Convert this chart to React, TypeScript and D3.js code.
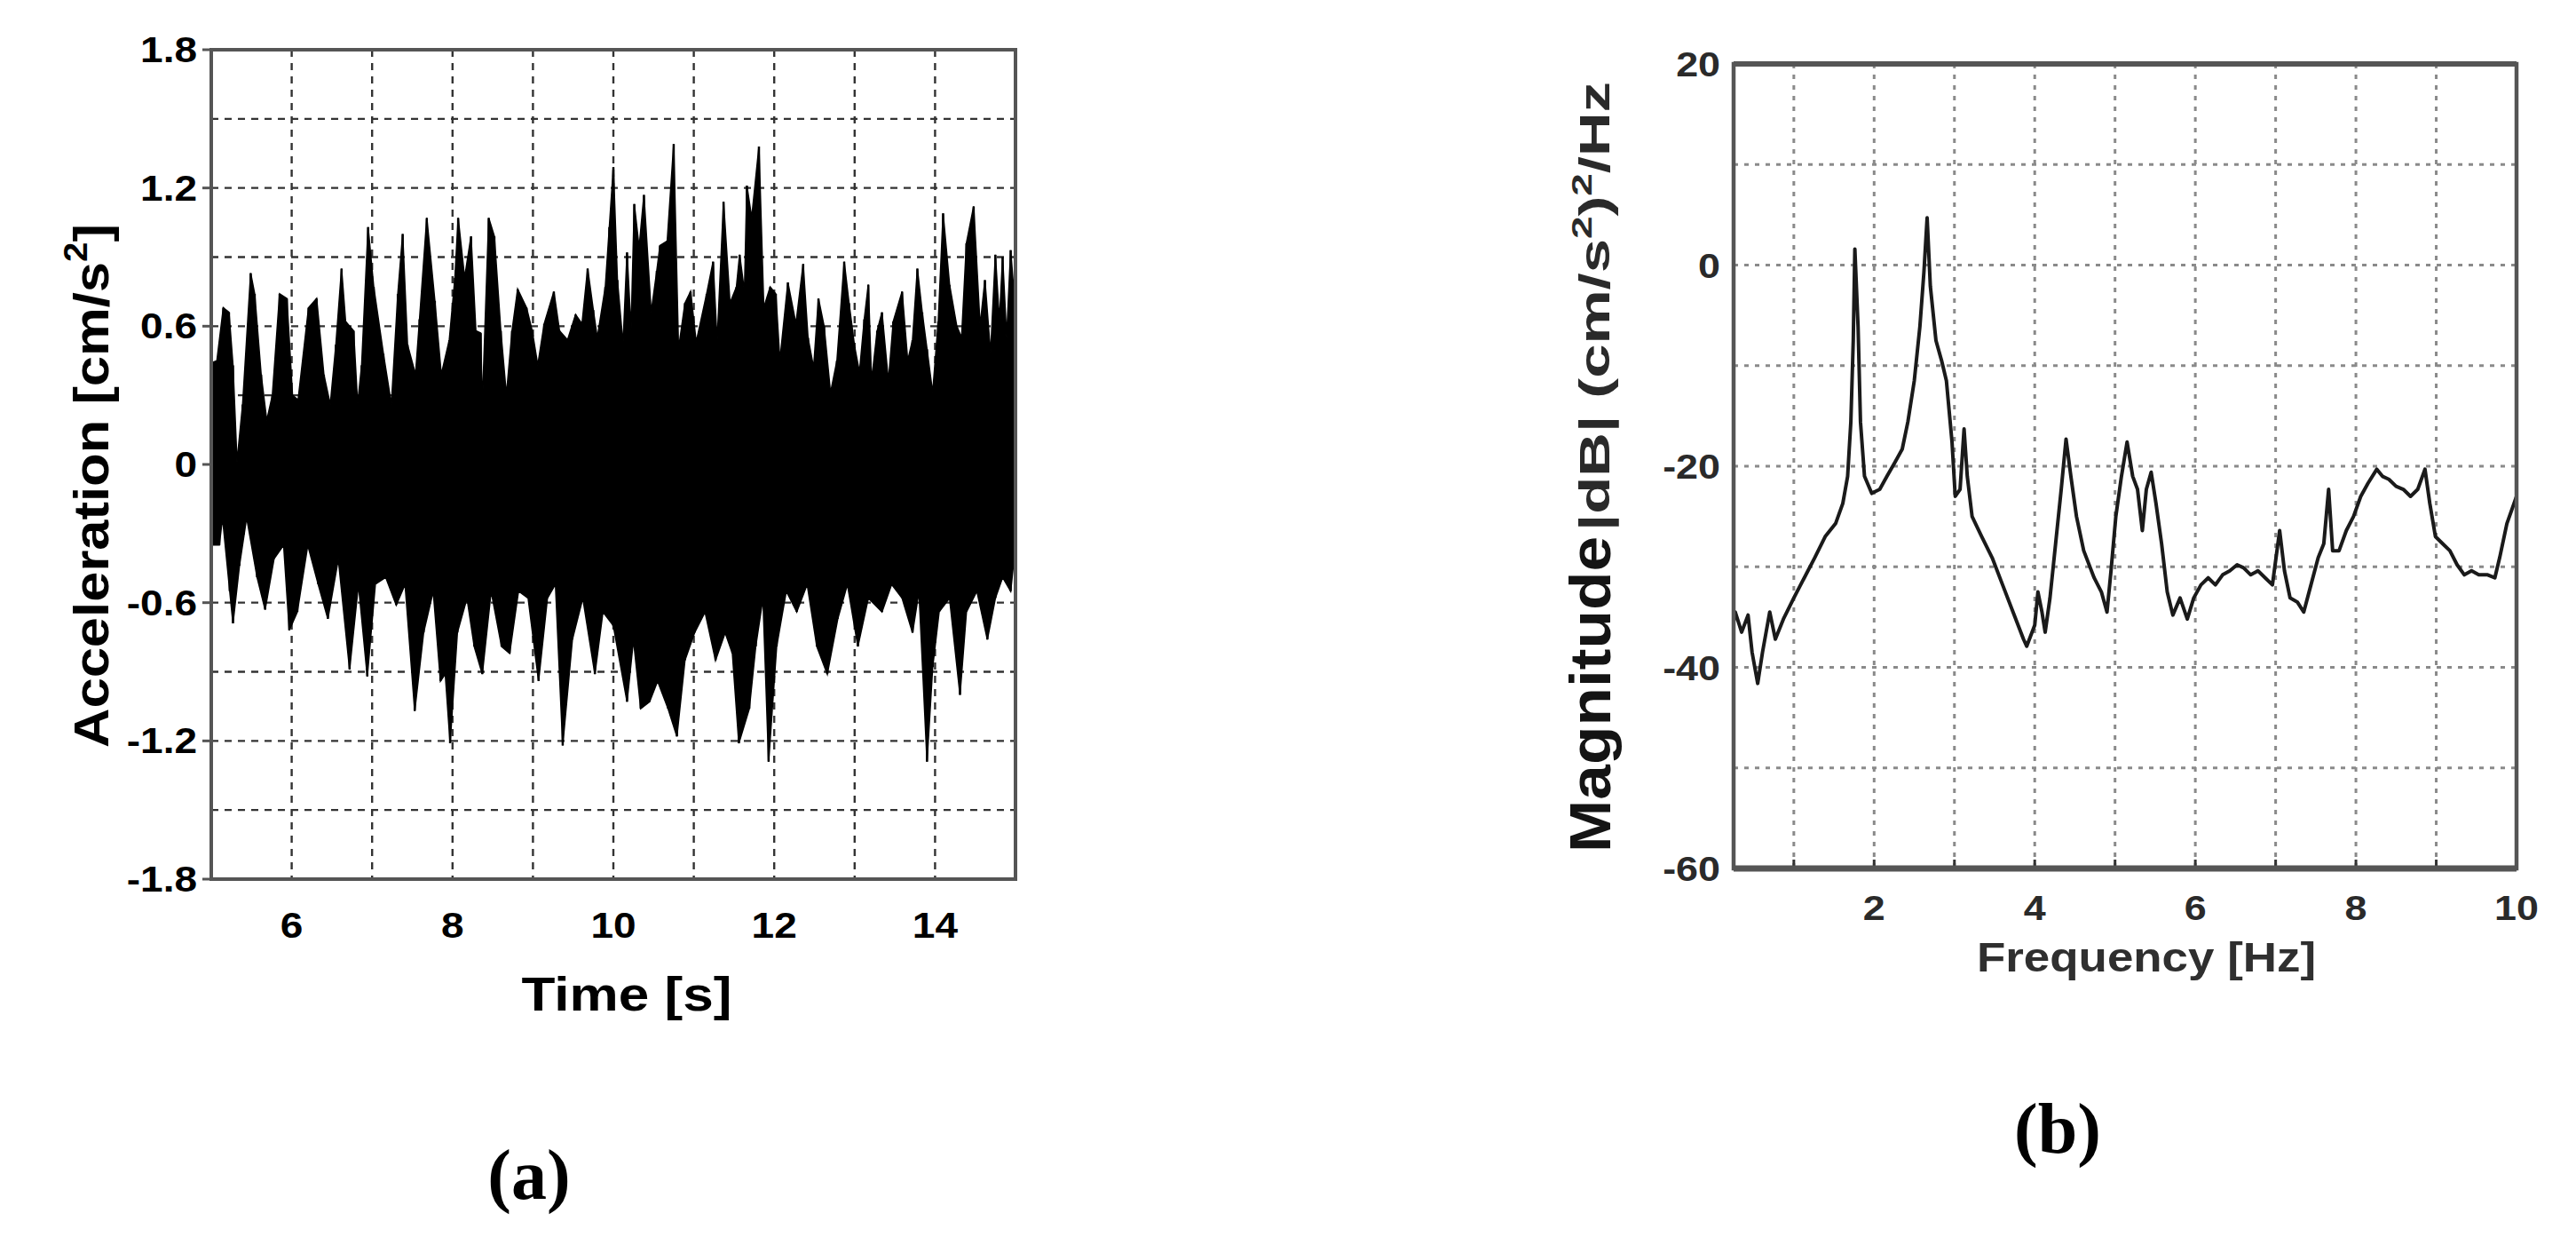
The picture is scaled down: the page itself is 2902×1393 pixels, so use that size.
import React from "react";
import * as d3 from "d3";

// ---------- (a) acceleration time history: upper and lower envelope ----------
const accTimeUpper = [
  5.0, 5.07, 5.15, 5.22, 5.27, 5.32, 5.39, 5.49, 5.54, 5.62, 5.69, 5.76, 5.85, 5.94, 6.01, 6.08,
  6.21, 6.31, 6.4, 6.48, 6.55, 6.62, 6.67, 6.77, 6.82, 6.87, 6.95, 7.02, 7.14, 7.24, 7.32, 7.38,
  7.44, 7.54, 7.59, 7.68, 7.78, 7.86, 7.96, 8.03, 8.07, 8.15, 8.23, 8.29, 8.35, 8.37, 8.45, 8.52,
  8.6, 8.67, 8.74, 8.81, 8.92, 8.99, 9.06, 9.14, 9.26, 9.33, 9.43, 9.53, 9.61, 9.68, 9.75, 9.8,
  9.9, 9.95, 10.0, 10.05, 10.12, 10.17, 10.22, 10.26, 10.32, 10.38, 10.47, 10.54, 10.58, 10.67, 10.75, 10.81,
  10.89, 10.96, 11.03, 11.16, 11.24, 11.29, 11.37, 11.45, 11.53, 11.57, 11.63, 11.66, 11.72, 11.81, 11.87, 11.95,
  12.02, 12.07, 12.17, 12.27, 12.36, 12.42, 12.49, 12.55, 12.62, 12.7, 12.78, 12.87, 12.93, 13.0, 13.06, 13.12,
  13.17, 13.21, 13.28, 13.34, 13.42, 13.48, 13.59, 13.66, 13.72, 13.78, 13.84, 13.9, 13.97, 14.04, 14.1, 14.18,
  14.27, 14.33, 14.39, 14.48, 14.56, 14.62, 14.69, 14.75, 14.8, 14.84, 14.89, 14.94, 15.0,
];
const accUpper = [
  0.44, 0.45, 0.68, 0.66, 0.43, 0.01, 0.26, 0.83, 0.74, 0.39, 0.19, 0.3, 0.74, 0.72, 0.3, 0.28,
  0.68, 0.72, 0.39, 0.26, 0.52, 0.85, 0.62, 0.58, 0.26, 0.43, 1.03, 0.77, 0.48, 0.26, 0.74, 1.0,
  0.52, 0.39, 0.63, 1.07, 0.71, 0.39, 0.54, 0.81, 1.07, 0.81, 0.99, 0.58, 0.57, 0.25, 1.07, 0.99,
  0.58, 0.3, 0.58, 0.76, 0.68, 0.58, 0.43, 0.61, 0.75, 0.58, 0.54, 0.65, 0.61, 0.85, 0.67, 0.55,
  0.77, 1.03, 1.29, 0.8, 0.52, 0.92, 0.58, 1.13, 0.94, 1.17, 0.66, 0.84, 0.95, 0.97, 1.39, 0.5,
  0.7, 0.75, 0.53, 0.74, 0.88, 0.53, 1.14, 0.7, 0.77, 0.91, 0.75, 1.21, 1.07, 1.38, 0.68, 0.77,
  0.74, 0.45, 0.79, 0.61, 0.87, 0.55, 0.42, 0.72, 0.6, 0.31, 0.45, 0.88, 0.7, 0.51, 0.4, 0.63,
  0.78, 0.36, 0.58, 0.66, 0.36, 0.62, 0.75, 0.45, 0.54, 0.85, 0.66, 0.5, 0.31, 0.62, 1.09, 0.78,
  0.6, 0.55, 0.96, 1.12, 0.6, 0.8, 0.48, 0.91, 0.62, 0.9, 0.55, 0.93, 0.66,
];
const accTimeLower = [
  5.0, 5.1, 5.14, 5.23, 5.27, 5.35, 5.44, 5.57, 5.67, 5.78, 5.9, 5.97, 6.07, 6.2, 6.33, 6.45,
  6.58, 6.72, 6.83, 6.94, 7.04, 7.17, 7.3, 7.41, 7.53, 7.64, 7.76, 7.85, 7.91, 7.97, 8.06, 8.18,
  8.27, 8.37, 8.48, 8.61, 8.71, 8.82, 8.94, 9.07, 9.18, 9.28, 9.37, 9.49, 9.62, 9.77, 9.87, 10.0,
  10.17, 10.25, 10.34, 10.45, 10.55, 10.68, 10.79, 10.89, 11.01, 11.14, 11.27, 11.39, 11.48, 11.56, 11.69, 11.77,
  11.86, 11.93, 12.03, 12.15, 12.28, 12.41, 12.53, 12.66, 12.79, 12.91, 13.04, 13.17, 13.34, 13.46, 13.59, 13.72,
  13.8, 13.9, 13.97, 14.05, 14.18, 14.31, 14.39, 14.52, 14.65, 14.75, 14.84, 14.94, 15.0,
];
const accLower = [
  -0.35, -0.35, -0.23, -0.55, -0.69, -0.44, -0.23, -0.49, -0.63, -0.41, -0.35, -0.72, -0.64, -0.35, -0.52, -0.67,
  -0.41, -0.89, -0.52, -0.92, -0.52, -0.49, -0.61, -0.52, -1.07, -0.73, -0.55, -0.94, -0.91, -1.21, -0.73, -0.58,
  -0.79, -0.91, -0.55, -0.79, -0.82, -0.55, -0.58, -0.94, -0.58, -0.52, -1.22, -0.76, -0.58, -0.91, -0.64, -0.7,
  -1.03, -0.76, -1.06, -1.03, -0.94, -1.06, -1.18, -0.85, -0.73, -0.64, -0.85, -0.73, -0.82, -1.21, -1.06, -0.79,
  -0.58, -1.29, -0.79, -0.55, -0.64, -0.52, -0.79, -0.91, -0.67, -0.52, -0.79, -0.58, -0.64, -0.52, -0.58, -0.73,
  -0.55, -1.29, -0.88, -0.64, -0.58, -1.0, -0.64, -0.55, -0.76, -0.58, -0.49, -0.55, -0.35,
];
const accXTicks = [6, 8, 10, 12, 14];
const accYTicks = [1.8, 1.2, 0.6, 0, -0.6, -1.2, -1.8];
const accXGrid = [6, 7, 8, 9, 10, 11, 12, 13, 14];
const accYGrid = [1.5, 1.2, 0.9, 0.6, 0.3, 0, -0.3, -0.6, -0.9, -1.2, -1.5];

// ---------- (b) spectrum ----------
const freqHz = [
  0.25, 0.27, 0.35, 0.43, 0.48, 0.55, 0.61, 0.7, 0.77, 0.87, 1.0, 1.13, 1.26, 1.39, 1.52, 1.61,
  1.67, 1.71, 1.74, 1.76, 1.8, 1.83, 1.88, 1.97, 2.07, 2.16, 2.26, 2.35, 2.42, 2.5, 2.57, 2.62,
  2.66, 2.7, 2.77, 2.84, 2.9, 2.97, 3.01, 3.07, 3.12, 3.16, 3.22, 3.34, 3.47, 3.6, 3.73, 3.86,
  3.9, 4.0, 4.04, 4.09, 4.13, 4.19, 4.26, 4.33, 4.39, 4.45, 4.52, 4.61, 4.74, 4.83, 4.9, 4.95,
  5.01, 5.08, 5.15, 5.22, 5.28, 5.34, 5.39, 5.45, 5.51, 5.58, 5.65, 5.72, 5.81, 5.9, 5.98, 6.07,
  6.16, 6.25, 6.34, 6.43, 6.52, 6.6, 6.69, 6.78, 6.87, 6.96, 7.05, 7.11, 7.18, 7.27, 7.35, 7.44,
  7.53, 7.6, 7.66, 7.71, 7.79, 7.88, 7.97, 8.06, 8.15, 8.26, 8.33, 8.41, 8.5, 8.59, 8.68, 8.77,
  8.86, 8.92, 8.99, 9.08, 9.17, 9.26, 9.35, 9.44, 9.53, 9.64, 9.73, 9.79, 9.88, 10.0,
];
const magDb = [
  -35.5, -34.5, -36.5, -34.8, -38.5, -41.6, -38.5, -34.5, -37.2, -35.2, -33.1, -31.1, -29.1, -27.0, -25.7, -23.7,
  -21.0, -15.6, -7.5, 1.6, -6.1, -15.6, -21.0, -22.7, -22.3, -21.0, -19.6, -18.3, -15.6, -11.5, -6.1, -0.7,
  4.7, -2.1, -7.5, -9.5, -11.5, -17.6, -23.0, -22.3, -16.3, -21.0, -25.0, -27.0, -29.1, -31.8, -34.5, -37.2,
  -37.9, -35.8, -32.5, -34.5, -36.5, -33.1, -27.7, -22.3, -17.3, -21.0, -25.0, -28.4, -31.1, -32.5, -34.5, -30.4,
  -25.0, -21.0, -17.6, -21.0, -22.3, -26.4, -22.3, -20.6, -23.7, -27.7, -32.5, -34.8, -33.1, -35.2, -33.1, -31.8,
  -31.1, -31.8, -30.8, -30.4, -29.8, -30.1, -30.8, -30.4, -31.1, -31.8, -26.4, -30.4, -33.1, -33.5, -34.5, -31.8,
  -29.1, -27.7, -22.3, -28.4, -28.4, -26.4, -25.0, -23.0, -21.7, -20.3, -21.0, -21.3, -22.0, -22.3, -23.0, -22.3,
  -20.3, -23.7, -27.0, -27.7, -28.4, -29.8, -30.8, -30.4, -30.8, -30.8, -31.1, -29.1, -25.7, -23.0,
];
const magXTicks = [2, 4, 6, 8, 10];
const magYTicks = [20, 0, -20, -40, -60];
const magXGrid = [1, 2, 3, 4, 5, 6, 7, 8, 9];
const magYGrid = [10, 0, -10, -20, -30, -40, -50];

const SANS = "'Liberation Sans', Arial, Helvetica, sans-serif";
const SERIF = "'Liberation Serif', 'Times New Roman', serif";
const SX = 1.15;

function HText(props: {
  x: number; y: number; size: number; anchor?: string; fill?: string; weight?: string | number;
  family?: string; sx?: number; children: React.ReactNode;
}) {
  const { x, y, size, anchor = "middle", fill = "#000", weight = "bold", family = SANS, sx = SX, children } = props;
  return (
    <text
      transform={`translate(${x},${y}) scale(${sx},1)`}
      fontSize={size}
      fontFamily={family}
      fontWeight={weight as any}
      textAnchor={anchor as any}
      fill={fill}
    >
      {children}
    </text>
  );
}

export default function App() {
  // panel (a)
  const A = { left: 238, right: 1144, top: 56, bottom: 990 };
  const xA = d3.scaleLinear().domain([5, 15]).range([A.left, A.right]);
  const yA = d3.scaleLinear().domain([-1.8, 1.8]).range([A.bottom, A.top]);

  const upperPts: [number, number][] = accTimeUpper.map((t, i) => [t, accUpper[i]]);
  const lowerPts: [number, number][] = accTimeLower.map((t, i) => [t, accLower[i]] as [number, number]).reverse();
  const envLine = d3
    .line<[number, number]>()
    .x((d) => xA(d[0]))
    .y((d) => yA(d[1]));
  const envPath = (envLine([...upperPts, ...lowerPts]) || "") + "Z";

  // panel (b)
  const B = { left: 1953, right: 2835, top: 72, bottom: 978 };
  const xB = d3.scaleLinear().domain([0.25, 10]).range([B.left, B.right]);
  const yB = d3.scaleLinear().domain([-60, 20]).range([B.bottom, B.top]);
  const magLine = d3
    .line<number>()
    .x((_, i) => xB(freqHz[i]))
    .y((d) => yB(d));
  const magPath = magLine(magDb) || "";

  return (
    <svg
      width={2902}
      height={1393}
      viewBox="0 0 2902 1393"
      style={{ position: "absolute", left: 0, top: 0, display: "block", background: "#fff" }}
    >
      <rect x={0} y={0} width={2902} height={1393} fill="#fff" />

      {/* ================= Panel (a) ================= */}
      <g>
        {accXGrid.map((v) => (
          <line key={"ax" + v} x1={xA(v)} x2={xA(v)} y1={A.top} y2={A.bottom}
            stroke="#333" strokeWidth={2.4} strokeDasharray="8,7" />
        ))}
        {accYGrid.map((v) => (
          <line key={"ay" + v} x1={A.left} x2={A.right} y1={yA(v)} y2={yA(v)}
            stroke="#333" strokeWidth={2.4} strokeDasharray="8,7" />
        ))}
        <path d={envPath} fill="#000" stroke="#000" strokeWidth={1.6} strokeLinejoin="miter" />
        {accTimeUpper.map((t, i) => (
          <line key={"su" + i} x1={xA(t)} x2={xA(t)} y1={yA(0)} y2={yA(accUpper[i])} stroke="#000" strokeWidth={2.5} />
        ))}
        {accTimeLower.map((t, i) => (
          <line key={"sl" + i} x1={xA(t)} x2={xA(t)} y1={yA(0)} y2={yA(accLower[i])} stroke="#000" strokeWidth={2.5} />
        ))}
        <rect x={A.left} y={A.top} width={A.right - A.left} height={A.bottom - A.top}
          fill="none" stroke="#555" strokeWidth={4} />
        {accYTicks.map((v) => (
          <line key={"ayt" + v} x1={A.left - 10} x2={A.left} y1={yA(v)} y2={yA(v)} stroke="#555" strokeWidth={3} />
        ))}
        {accYTicks.map((v) => (
          <HText key={"ayl" + v} x={222} y={yA(v) + 14} size={40} anchor="end">
            {v === 0 ? "0" : v.toFixed(1)}
          </HText>
        ))}
        {accXTicks.map((v) => (
          <HText key={"axl" + v} x={xA(v)} y={1056} size={40}>
            {String(v)}
          </HText>
        ))}
        <HText x={706} y={1138} size={54}>
          Time [s]
        </HText>
        <text
          transform="translate(122,842) rotate(-90)"
          fontSize={55}
          fontFamily={SANS}
          fontWeight="bold"
          textLength={590}
          lengthAdjust="spacingAndGlyphs"
          fill="#000"
        >
          Acceleration [cm/s
          <tspan dy={-24} fontSize={36}>2</tspan>
          <tspan dy={24}>]</tspan>
        </text>
      </g>

      {/* ================= Panel (b) ================= */}
      <g>
        {magXGrid.map((v) => (
          <line key={"bx" + v} x1={xB(v)} x2={xB(v)} y1={B.top} y2={B.bottom}
            stroke="#8a8a8a" strokeWidth={3} strokeDasharray="5,7" />
        ))}
        {magYGrid.map((v) => (
          <line key={"by" + v} x1={B.left} x2={B.right} y1={yB(v)} y2={yB(v)}
            stroke="#8a8a8a" strokeWidth={3} strokeDasharray="5,7" />
        ))}
        {magXGrid.map((v) => (
          <line key={"bxt" + v} x1={xB(v)} x2={xB(v)} y1={B.bottom} y2={B.bottom - 10} stroke="#333" strokeWidth={3} />
        ))}
        <path d={magPath} fill="none" stroke="#1a1a1a" strokeWidth={4} strokeLinejoin="round" />
        <rect x={B.left} y={B.top} width={B.right - B.left} height={B.bottom - B.top}
          fill="none" stroke="#555" strokeWidth={4.5} />
        <line x1={B.left} x2={B.right} y1={B.bottom} y2={B.bottom} stroke="#555" strokeWidth={7} />
        <line x1={B.left} x2={B.right} y1={B.top} y2={B.top} stroke="#555" strokeWidth={6} />
        {magYTicks.map((v) => (
          <HText key={"byl" + v} x={1938} y={yB(v) + 14} size={39} anchor="end" fill="#2a2a2a">
            {String(v)}
          </HText>
        ))}
        {magXTicks.map((v) => (
          <HText key={"bxl" + v} x={xB(v)} y={1036} size={39} fill="#2a2a2a">
            {String(v)}
          </HText>
        ))}
        <HText x={2418} y={1094} size={46} fill="#2f2f2f">
          Frequency [Hz]
        </HText>
        <text
          transform="translate(1814,960) rotate(-90)"
          fontSize={64}
          fontFamily={SANS}
          fontWeight="bold"
          textLength={356}
          lengthAdjust="spacingAndGlyphs"
          fill="#141414"
        >
          Magnitude
        </text>
        <text
          transform="translate(1813,598) rotate(-90)"
          fontSize={48}
          fontFamily={SANS}
          fontWeight="bold"
          textLength={506}
          lengthAdjust="spacingAndGlyphs"
          fill="#2a2a2a"
        >
          |dB| (cm/s
          <tspan dy={-20} fontSize={32}>2</tspan>
          <tspan dy={20}>)</tspan>
          <tspan dy={-20} fontSize={32}>2</tspan>
          <tspan dy={20}>/Hz</tspan>
        </text>
      </g>

      {/* ================= Panel labels ================= */}
      <HText x={596} y={1350} size={80} family={SERIF} sx={1}>
        (a)
      </HText>
      <HText x={2318} y={1298} size={80} family={SERIF} sx={1}>
        (b)
      </HText>
    </svg>
  );
}
